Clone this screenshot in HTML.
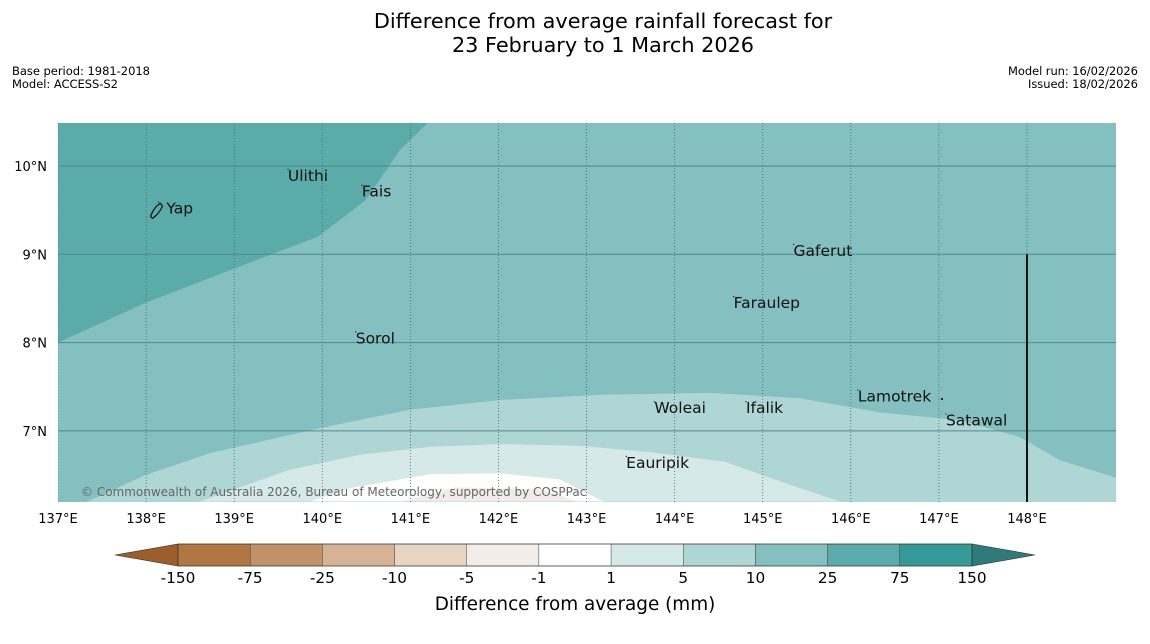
<!DOCTYPE html>
<html><head><meta charset="utf-8"><style>
html,body{margin:0;padding:0;background:#fff;width:1150px;height:644px;overflow:hidden}
svg text{font-family:"DejaVu Sans","Liberation Sans",sans-serif}
</style></head><body>
<svg id="chart" width="1150" height="644" xmlns="http://www.w3.org/2000/svg">
<text x="603" y="28" font-size="20.8" text-anchor="middle">Difference from average rainfall forecast for</text>
<text x="603" y="52" font-size="20.8" text-anchor="middle">23 February to 1 March 2026</text>
<g font-size="11.5">
<text x="12" y="75" textLength="138">Base period: 1981-2018</text>
<text x="12" y="88" textLength="106">Model: ACCESS-S2</text>
</g>
<g font-size="11.5" text-anchor="end">
<text x="1138" y="75" textLength="130">Model run: 16/02/2026</text>
<text x="1138" y="88" textLength="110">Issued: 18/02/2026</text>
</g>
<defs><clipPath id="mapclip"><rect x="58" y="123" width="1058" height="379"/></clipPath></defs>
<g id="map" clip-path="url(#mapclip)"></g>
<g id="overlay"></g>
<g id="cbar"></g>
<text x="575" y="610" font-size="18.4" text-anchor="middle">Difference from average (mm)</text>
</svg>
<script>
const NS="http://www.w3.org/2000/svg";
// axes
const lonMin=137, lonMax=149.01, latMin=6.2, latMax=10.49;
const lonTicks=[137,138,139,140,141,142,143,144,145,146,147,148];
const latTicks=[7,8,9,10];
const X=lon=>58+(lon-137)*88.09;
const Y=lat=>166+(10-lat)*88.3;
// contour boundaries (lon, lat)
const b25Lon=[137,137.99,138.95,139.95,140.49,140.88,141.2];
const b25Lat=[8.0,8.45,8.82,9.2,9.61,10.18,10.49];
const b10Lon=[137.31,137.99,138.73,139.97,140.99,142.02,143.15,144.4,145.42,146.33,147.24,147.92,148.37,149.01];
const b10Lat=[6.19,6.5,6.75,7.03,7.24,7.35,7.41,7.43,7.37,7.21,7.12,6.93,6.67,6.47];
const b5Lon=[138.61,139.63,140.43,141.22,142.02,142.93,143.72,144.57,145.31,145.88];
const b5Lat=[6.2,6.56,6.73,6.82,6.85,6.83,6.76,6.65,6.39,6.2];
const b1Lon=[139.86,140.31,141.22,142.02,142.7,143.15,143.21];
const b1Lat=[6.2,6.35,6.51,6.52,6.45,6.22,6.2];
const bm1Lon=[140.9,141.5,142.5,142.9];
const bm1Lat=[6.2,6.36,6.34,6.2];
// places
const placeNames=["Yap","Ulithi","Fais","Gaferut","Faraulep","Sorol","Lamotrek","Woleai","Ifalik","Satawal","Eauripik"];
const placeLon=[138.14,139.61,140.45,145.35,144.67,140.38,146.08,143.77,144.81,147.08,143.45];
const placeLat=[9.53,9.9,9.72,9.05,8.46,8.06,7.40,7.27,7.27,7.13,6.65];
// colorbar
const cbLevels=["-150","-75","-25","-10","-5","-1","1","5","10","25","75","150"];
const cbColors=["#b07840","#c09268","#d6b394","#e8d4c2","#f2ede9","#ffffff","#d5e9e8","#add6d5","#84c0bf","#5aabaa","#339a98"];

const map=document.getElementById('map');
function mk(tag,attrs,parent){const e=document.createElementNS(NS,tag);for(const k in attrs)e.setAttribute(k,attrs[k]);parent.appendChild(e);return e;}
function pts(lons,lats){return lons.map((l,i)=>X(l).toFixed(1)+","+Y(lats[i]).toFixed(1));}
const L=X(lonMin)-2,R=X(lonMax)+2,T=Y(latMax)-2,B=Y(latMin)+2;
let bg=mk('rect',{x:58,y:123,width:1058,height:379,fill:'#84c0bf'},map);


let p=mk('polygon',{points:[L+","+T,...pts(b25Lon,b25Lat).reverse(),L+","+Y(b25Lat[0])].join(" "),fill:'#5aabaa'},map);


p=mk('polygon',{points:[...pts(b10Lon,b10Lat),R+","+B,L+","+B].join(" "),fill:'#add6d5'},map);


p=mk('polygon',{points:pts(b5Lon,b5Lat).join(" "),fill:'#d5e9e8'},map);


p=mk('polygon',{points:pts(b1Lon,b1Lat).join(" "),fill:'#ffffff'},map);


p=mk('polygon',{points:pts(bm1Lon,bm1Lat).join(" "),fill:'#f1ece8'},map);


// gridlines
lonTicks.forEach(lon=>{
  const g=mk('line',{x1:X(lon),x2:X(lon),y1:123,y2:502,stroke:'#3e6d6c','stroke-width':0.8,'stroke-dasharray':'1,2'},map);
  
  
  const t=mk('text',{x:X(lon),y:523,'font-size':13,'text-anchor':'middle'},document.getElementById('overlay'));
  t.textContent=lon+"°E";
  
  
});
latTicks.forEach(lat=>{
  const g=mk('line',{x1:58,x2:1116,y1:Y(lat),y2:Y(lat),stroke:'#4e8a89','stroke-width':1},map);
  
  
  const t=mk('text',{x:47,y:Y(lat)+5,'font-size':13,'text-anchor':'end'},document.getElementById('overlay'));
  t.textContent=lat+"°N";
  
  
});
// boundary line at 148E
let vl=mk('line',{x1:X(148),x2:X(148),y1:Y(9),y2:502,stroke:'#111','stroke-width':2},map);


// Yap island
let yap=mk('path',{d:`M${X(138.05)},${Y(9.43)} q4,-10 10,-13 l2,3 q-4,8 -10,12 z`,fill:'none',stroke:'#111','stroke-width':1.2},map);


// places
placeNames.forEach((n,i)=>{
  const d=mk('rect',{x:X(placeLon[i])-0.5,y:Y(placeLat[i])-6,width:1.2,height:1.2,fill:'#222'},map);
  
  
  const t=mk('text',{x:X(placeLon[i])+(n==="Yap"?8:0),y:Y(placeLat[i])+6,'font-size':15.5,fill:'#111'},map);
  t.textContent=n;
  
  
});
let dot=mk('rect',{x:941,y:398,width:2,height:2,fill:'#222'},map);


let cp=mk('text',{x:81,y:496,'font-size':12,fill:'#666'},map);
cp.textContent="© Commonwealth of Australia 2026, Bureau of Meteorology, supported by COSPPac";


// colorbar
const cb=document.getElementById('cbar');
const cx0=178,cx1=972,cy0=544,cy1=566,sw=(cx1-cx0)/cbColors.length;
let la=mk('polygon',{points:`${cx0},${cy0} ${cx0},${cy1} 115,555`,fill:'#9c5e2b',stroke:'#333','stroke-width':0.6},cb);


let ra=mk('polygon',{points:`${cx1},${cy0} ${cx1},${cy1} 1035,555`,fill:'#2f7b7a',stroke:'#333','stroke-width':0.6},cb);


cbColors.forEach((c,i)=>{
  const r=mk('rect',{x:cx0+i*sw,y:cy0,width:sw,height:cy1-cy0,fill:c,stroke:'#333','stroke-width':0.4},cb);
  
  
});
let fr=mk('rect',{x:cx0,y:cy0,width:cx1-cx0,height:cy1-cy0,fill:'none',stroke:'#333','stroke-width':0.6},cb);


cbLevels.forEach((v,i)=>{
  const t=mk('text',{x:cx0+i*sw,y:583,'font-size':15.3,'text-anchor':'middle'},cb);
  t.textContent=v;
  
  
});
</script>
</body></html>
